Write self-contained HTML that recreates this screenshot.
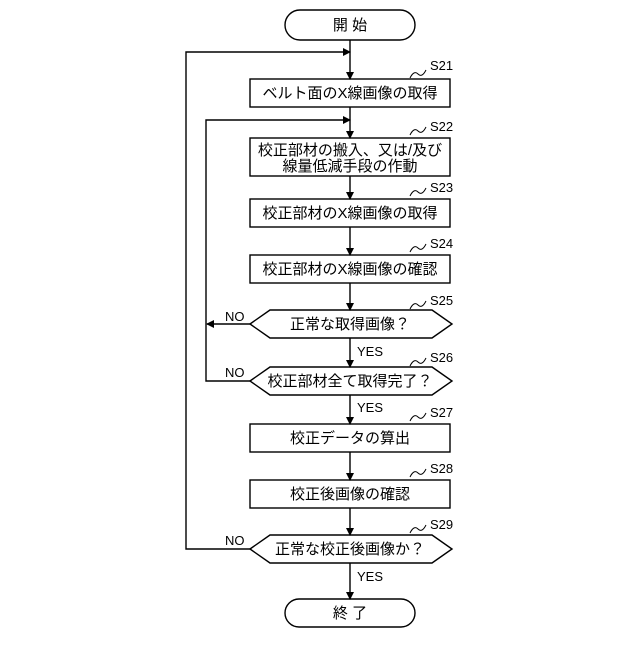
<!DOCTYPE html>
<html><head><meta charset="utf-8"><style>
body{margin:0;background:#fff}
text{font-family:"Liberation Sans","Noto Sans CJK JP",sans-serif;fill:#000}
.j{font-size:15px;text-anchor:middle}
.s{font-size:13px}
</style></head><body>
<svg width="640" height="640" viewBox="0 0 640 640" xmlns="http://www.w3.org/2000/svg">
<defs><marker id="a" markerWidth="8" markerHeight="8" refX="7" refY="4" orient="auto" markerUnits="userSpaceOnUse"><path d="M0,0 L8,4 L0,8z" fill="#000"/></marker></defs>
<g fill="none" stroke="#000" stroke-width="1.4">
<rect x="285" y="10" width="130" height="30" rx="15"/>
<rect x="250" y="79" width="200" height="28"/>
<rect x="250" y="138" width="200" height="38"/>
<rect x="250" y="199" width="200" height="28"/>
<rect x="250" y="255" width="200" height="28"/>
<polygon points="250,324 270,310 432,310 452,324 432,338 270,338"/>
<polygon points="250,381 270,367 432,367 452,381 432,395 270,395"/>
<rect x="250" y="424" width="200" height="28"/>
<rect x="250" y="480" width="200" height="28"/>
<polygon points="250,549 270,535 432,535 452,549 432,563 270,563"/>
<rect x="285" y="599" width="130" height="28" rx="14"/>
<line x1="350" y1="40" x2="350" y2="79" marker-end="url(#a)"/>
<line x1="350" y1="107" x2="350" y2="138" marker-end="url(#a)"/>
<line x1="350" y1="176" x2="350" y2="199" marker-end="url(#a)"/>
<line x1="350" y1="227" x2="350" y2="255" marker-end="url(#a)"/>
<line x1="350" y1="283" x2="350" y2="310" marker-end="url(#a)"/>
<line x1="350" y1="338" x2="350" y2="367" marker-end="url(#a)"/>
<line x1="350" y1="395" x2="350" y2="424" marker-end="url(#a)"/>
<line x1="350" y1="452" x2="350" y2="480" marker-end="url(#a)"/>
<line x1="350" y1="508" x2="350" y2="535" marker-end="url(#a)"/>
<line x1="350" y1="563" x2="350" y2="599" marker-end="url(#a)"/>
<polyline points="250,549 186,549 186,52 350,52" marker-end="url(#a)"/>
<polyline points="250,381 206,381 206,120 350,120" marker-end="url(#a)"/>
<line x1="250" y1="324" x2="207" y2="324" marker-end="url(#a)"/>
<g stroke-width="1">
<path d="M410,78 q4,-8 8,-4 t8,-4"/>
<path d="M410,135 q4,-8 8,-4 t8,-4"/>
<path d="M410,196 q4,-8 8,-4 t8,-4"/>
<path d="M410,252 q4,-8 8,-4 t8,-4"/>
<path d="M410,309 q4,-8 8,-4 t8,-4"/>
<path d="M410,366 q4,-8 8,-4 t8,-4"/>
<path d="M410,421 q4,-8 8,-4 t8,-4"/>
<path d="M410,477 q4,-8 8,-4 t8,-4"/>
<path d="M410,533 q4,-8 8,-4 t8,-4"/>
</g>
</g>
<text class="j" x="350" y="30">開 始</text>
<text class="j" x="350" y="98">ベルト面のX線画像の取得</text>
<text class="j" x="350" y="155">校正部材の搬入、又は/及び</text>
<text class="j" x="350" y="171">線量低減手段の作動</text>
<text class="j" x="350" y="218">校正部材のX線画像の取得</text>
<text class="j" x="350" y="274">校正部材のX線画像の確認</text>
<text class="j" x="350" y="329">正常な取得画像？</text>
<text class="j" x="350" y="386">校正部材全て取得完了？</text>
<text class="j" x="350" y="443">校正データの算出</text>
<text class="j" x="350" y="499">校正後画像の確認</text>
<text class="j" x="350" y="554">正常な校正後画像か？</text>
<text class="j" x="350" y="618">終 了</text>
<text class="s" x="430" y="70">S21</text>
<text class="s" x="430" y="131">S22</text>
<text class="s" x="430" y="192">S23</text>
<text class="s" x="430" y="248">S24</text>
<text class="s" x="430" y="305">S25</text>
<text class="s" x="430" y="362">S26</text>
<text class="s" x="430" y="417">S27</text>
<text class="s" x="430" y="473">S28</text>
<text class="s" x="430" y="529">S29</text>
<text class="s" x="225" y="321">NO</text>
<text class="s" x="225" y="377">NO</text>
<text class="s" x="225" y="545">NO</text>
<text class="s" x="357" y="356">YES</text>
<text class="s" x="357" y="412">YES</text>
<text class="s" x="357" y="581">YES</text>
</svg>
</body></html>
